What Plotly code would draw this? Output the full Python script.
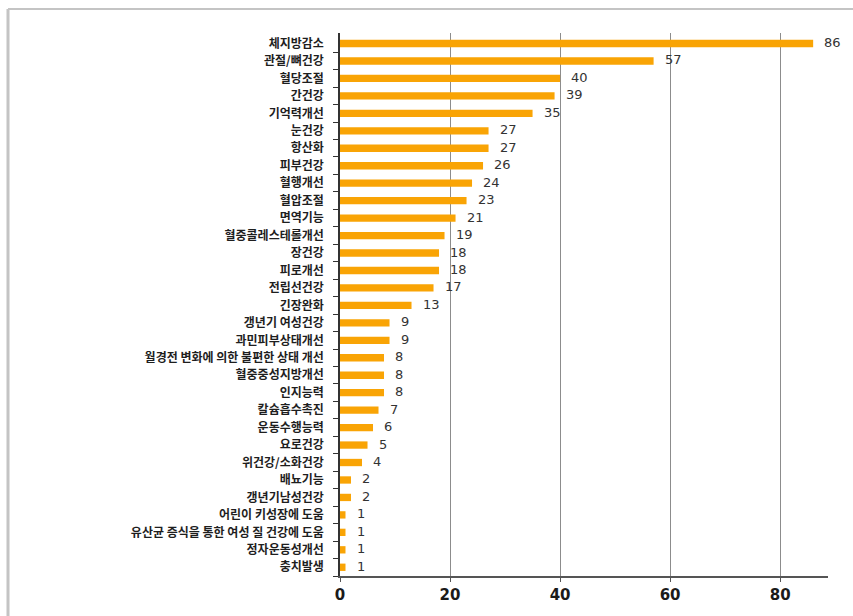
import plotly.graph_objects as go

# Health-function categories and their counts (top to bottom)
categories = [
    "체지방감소", "관절/뼈건강", "혈당조절", "간건강", "기억력개선", "눈건강", "항산화",
    "피부건강", "혈행개선", "혈압조절", "면역기능", "혈중콜레스테롤개선", "장건강",
    "피로개선", "전립선건강", "긴장완화", "갱년기 여성건강", "과민피부상태개선",
    "월경전 변화에 의한 불편한 상태 개선", "혈중중성지방개선", "인지능력", "칼슘흡수촉진",
    "운동수행능력", "요로건강", "위건강/소화건강", "배뇨기능", "갱년기남성건강",
    "어린이 키성장에 도움", "유산균 증식을 통한 여성 질 건강에 도움", "정자운동성개선", "충치발생",
]
counts = [86, 57, 40, 39, 35, 27, 27, 26, 24, 23, 21, 19, 18, 18, 17, 13, 9, 9, 8, 8, 8,
          7, 6, 5, 4, 2, 2, 1, 1, 1, 1]
x_ticks = [0, 20, 40, 60, 80]

BAR = "#F9A405"
W, H = 853, 616
ML, MR, MT, MB = 340, 25, 33, 40

fig = go.Figure(go.Bar(
    x=counts, y=categories, orientation="h",
    marker=dict(color=BAR, line=dict(width=0)),
    width=0.42, hoverinfo="x+y",
))

# value labels placed just beyond each bar end
for c, v in zip(categories, counts):
    fig.add_annotation(
        x=v, y=c, text=str(v), showarrow=False, xanchor="left", xshift=9, yshift=1,
        font=dict(family="DejaVu Sans", size=13, color="#333333"),
    )

# outer frame: top and left edges
fig.add_shape(type="line", xref="paper", yref="paper",
              x0=(8 - ML) / (W - ML - MR), x1=(W - ML) / (W - ML - MR) + 0.01,
              y0=1 + (MT - 9) / (H - MT - MB), y1=1 + (MT - 9) / (H - MT - MB),
              line=dict(color="#c4c4c4", width=2))
fig.add_shape(type="line", xref="paper", yref="paper",
              x0=(8 - ML) / (W - ML - MR), x1=(8 - ML) / (W - ML - MR),
              y0=1 + (MT - 9) / (H - MT - MB), y1=-MB / (H - MT - MB) - 0.01,
              line=dict(color="#c4c4c4", width=3))

fig.update_layout(
    width=W, height=H,
    margin=dict(l=ML, r=MR, t=MT, b=MB),
    paper_bgcolor="white", plot_bgcolor="white",
    showlegend=False,
    xaxis=dict(
        range=[0, 88.7], tickvals=x_ticks, ticktext=[str(t) for t in x_ticks],
        showgrid=True, gridcolor="#8c8c8c", gridwidth=1, zeroline=False,
        showline=True, linecolor="#555555", linewidth=2,
        ticks="outside", ticklen=4, tickcolor="#555555",
        tickfont=dict(family="DejaVu Sans", size=15, color="#1a1a1a", weight="bold"),
        fixedrange=True,
    ),
    yaxis=dict(
        categoryorder="array", categoryarray=categories[::-1],
        tickmode="array", tickvals=categories, ticktext=categories,
        showline=True, linecolor="#333333", linewidth=1.5,
        ticks="outside", ticklen=5, tickcolor="#333333", tickson="boundaries",
        ticklabelstandoff=12,
        tickfont=dict(family="Noto Sans CJK KR", size=12, color="#1e1e1e", weight="bold"),
        showgrid=False, fixedrange=True,
    ),
)

fig.write_html("out.html")
